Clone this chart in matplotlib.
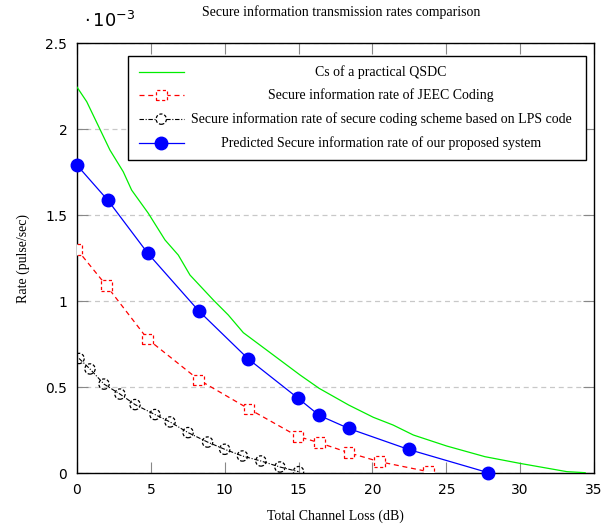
import matplotlib
matplotlib.use("Agg")
import matplotlib.pyplot as plt
from matplotlib.patches import Rectangle
from matplotlib.ticker import FuncFormatter

# rates are in units of 1e-3 pulse/sec
qsdc_loss = [0, 0.66, 2.23, 3.13, 3.70, 4.83, 5.96, 6.86, 7.65, 9.23, 10.24, 11.26,
             12.84, 15.1, 16.4, 18.4, 20.06, 21.4, 22.77, 25.03, 27.62, 29.99, 33.16, 34.4]
qsdc_rate = [2.244, 2.159, 1.878, 1.752, 1.645, 1.510, 1.355, 1.267, 1.151, 1.006, 0.919, 0.816,
             0.715, 0.570, 0.492, 0.395, 0.324, 0.279, 0.221, 0.157, 0.095, 0.056, 0.008, 0.002]

jeec_loss = [0, 2.0, 4.78, 8.24, 11.65, 14.95, 16.4, 18.4, 20.47, 23.78]
jeec_rate = [1.30, 1.089, 0.779, 0.542, 0.372, 0.213, 0.176, 0.118, 0.066, 0.008]

lps_loss = [0.14, 0.88, 1.83, 2.91, 3.93, 5.28, 6.30, 7.52, 8.84, 10.0, 11.2, 12.45, 13.74, 15.0]
lps_rate = [0.666, 0.605, 0.517, 0.459, 0.398, 0.340, 0.297, 0.235, 0.180, 0.138, 0.099, 0.070, 0.035, 0.008]

prop_loss = [0, 2.1, 4.8, 8.25, 11.6, 14.95, 16.4, 18.4, 22.45, 27.8]
prop_rate = [1.79, 1.585, 1.277, 0.942, 0.663, 0.436, 0.335, 0.259, 0.137, 0.003]

labels = ["Cs of a practical QSDC",
          "Secure information rate of JEEC Coding",
          "Secure information rate of secure coding scheme based on LPS code",
          "Predicted Secure information rate of our proposed system"]

serif = "Liberation Serif"

fig = plt.figure(figsize=(6.1, 5.25), dpi=100)
ax = fig.add_axes([0.1262, 0.099, 0.8476, 0.819])

ax.plot(qsdc_loss, qsdc_rate, color="#00ee00", lw=0.9, zorder=3)
ax.plot(jeec_loss, jeec_rate, color="red", lw=0.9, ls=(0, (4, 3)), zorder=3)
ax.scatter(jeec_loss, jeec_rate, s=58, marker="s", facecolors="white", edgecolors="red",
           linewidths=0.9, linestyles=(0, (2.5, 2)), zorder=4)
ax.plot(lps_loss, lps_rate, color="black", lw=0.8, ls=(0, (4, 1.5, 1, 1.5)), zorder=3)
ax.scatter(lps_loss, lps_rate, s=55, marker="o", facecolors="none", edgecolors="black",
           linewidths=0.9, linestyles=(0, (2.5, 1.5)), zorder=4)
ax.plot(prop_loss, prop_rate, color="blue", lw=0.9, marker="o", ms=9,
        mfc="blue", mec="blue", zorder=5, clip_on=False)

ax.set_xlim(0, 35)
ax.set_ylim(0, 2.5)
ax.set_xticks(range(0, 36, 5))
ax.set_yticks([0, 0.5, 1, 1.5, 2, 2.5])
ax.yaxis.set_major_formatter(FuncFormatter(lambda v, p: f"{v:g}"))
ax.tick_params(direction="in", length=8, width=0.8, color="#888888",
               top=True, right=True, labelsize=10)
ax.tick_params(axis="y", pad=7)
ax.tick_params(axis="x", pad=7)
for sp in ax.spines.values():
    sp.set_linewidth(1.0)
ax.grid(axis="y", color="#c8c8c8", ls=(0, (4, 3)), lw=0.9)
ax.set_axisbelow(True)

ax.set_xlabel("Total Channel Loss (dB)", family=serif, fontsize=10, labelpad=9)
ax.set_ylabel("Rate (pulse/sec)", family=serif, fontsize=10, labelpad=11)
fig.text(0.56, 0.977, "Secure information transmission rates comparison",
         family=serif, fontsize=10, ha="center", va="center")
fig.text(0.137, 0.961, r"$\cdot\,10^{-3}$", fontsize=13, ha="left", va="center")

# legend drawn by hand so the text can be centred like the original
ax.add_patch(Rectangle((0.0996, 0.728), 0.885, 0.242, transform=ax.transAxes,
                       facecolor="white", edgecolor="black", lw=1.0, zorder=6))
ys = [0.933, 0.879, 0.823, 0.768]
hx = [0.119, 0.207]
mx = sum(hx) / 2
tf = ax.transAxes
ax.plot(hx, [ys[0]] * 2, transform=tf, color="#00ee00", lw=0.9, zorder=7)
ax.plot(hx, [ys[1]] * 2, transform=tf, color="red", lw=0.9, ls=(0, (4, 3)), zorder=7)
ax.scatter([mx], [ys[1]], transform=tf, s=58, marker="s", facecolors="white",
           edgecolors="red", linewidths=0.9, linestyles=(0, (2.5, 2)), zorder=8)
ax.plot(hx, [ys[2]] * 2, transform=tf, color="black", lw=0.8,
        ls=(0, (4, 1.5, 1, 1.5)), zorder=7)
ax.scatter([mx], [ys[2]], transform=tf, s=55, marker="o", facecolors="white",
           edgecolors="black", linewidths=0.9, linestyles=(0, (2.5, 1.5)), zorder=8)
ax.plot(hx, [ys[3]] * 2, transform=tf, color="blue", lw=0.9, zorder=7)
ax.plot([mx], [ys[3]], transform=tf, marker="o", ms=9, color="blue", zorder=8)
for y, lab in zip(ys, labels):
    ax.text(0.588, y, lab, transform=tf, family=serif, fontsize=10,
            ha="center", va="center", zorder=8)

fig.savefig("out.png", dpi=100)
